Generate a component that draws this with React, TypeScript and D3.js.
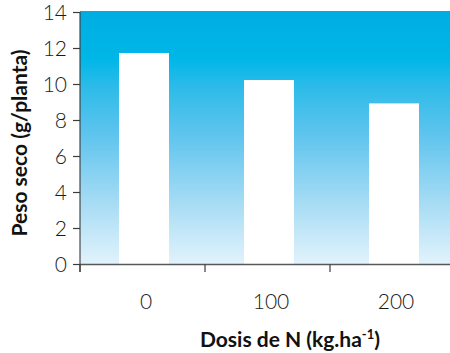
import React from "react";
import * as d3 from "d3";

// Nitrogen dose categories and dry weight per plant
const doses = ["0", "100", "200"];
const pesoSeco = [11.75, 10.25, 8.95];
const yTicks = [0, 2, 4, 6, 8, 10, 12, 14];

const W = 450;
const H = 353;
const left = 80;
const bandW = 125;
const zeroY = 264.5;
const topY = 12.5;

export default function App() {
  const x = d3
    .scaleBand<string>()
    .domain(doses)
    .range([left + 1.5, left + 1.5 + bandW * doses.length])
    .paddingInner(0.6)
    .paddingOuter(0.3);
  const y = d3.scaleLinear().domain([0, 14]).range([zeroY, topY]);

  const tickFont = "Lato, 'DejaVu Sans', sans-serif";
  const titleFont = "Lato, 'DejaVu Sans', sans-serif";
  const axisColor = "#3c3c3c";

  // boundaries between categories carry the x-axis ticks
  const xBoundaries = d3.range(doses.length + 1).map((i) => left + i * bandW);

  return (
    <div style={{ position: "absolute", left: 0, top: 0 }}>
      <svg width={W} height={H} style={{ display: "block" }}>
        <defs>
          <linearGradient id="bg" x1="0" y1="0" x2="0" y2="1">
            <stop offset="0" stopColor="#00ade3" />
            <stop offset="0.19" stopColor="#00b7e7" />
            <stop offset="0.3" stopColor="#2dbbe9" />
            <stop offset="0.5" stopColor="#62c5ee" />
            <stop offset="0.75" stopColor="#a5dbf4" />
            <stop offset="1" stopColor="#e2f3fc" />
          </linearGradient>
        </defs>
        <rect
          x={left}
          y={y(14) - 1.5}
          width={W - left}
          height={zeroY - (y(14) - 1.5)}
          fill="url(#bg)"
        />
        {doses.map((d, i) => (
          <rect
            key={d}
            x={x(d)!}
            y={y(pesoSeco[i])}
            width={x.bandwidth()}
            height={zeroY - y(pesoSeco[i])}
            fill="#ffffff"
          />
        ))}
        {/* y axis */}
        <line
          x1={left}
          x2={left}
          y1={y(14) - 0.5}
          y2={zeroY + 7.5}
          stroke={axisColor}
          strokeOpacity={0.75}
          strokeWidth={1.5}
        />
        {yTicks.map((t) => (
          <g key={t}>
            <line
              x1={left - 7}
              x2={left}
              y1={y(t)}
              y2={y(t)}
              stroke={axisColor}
              strokeWidth={1.2}
            />
            <text
              x={67}
              y={y(t)}
              dy="0.36em"
              textAnchor="end"
              fontFamily={tickFont}
              fontWeight={300}
              fontSize={21}
              fill="#1a1a1a"
            >
              {t}
            </text>
          </g>
        ))}
        {/* x axis */}
        <line
          x1={left}
          x2={W}
          y1={zeroY}
          y2={zeroY}
          stroke={axisColor}
          strokeOpacity={0.85}
          strokeWidth={1.5}
        />
        {xBoundaries.map((bx, i) => (
          <line
            key={i}
            x1={bx}
            x2={bx}
            y1={zeroY}
            y2={zeroY + 7.5}
            stroke={axisColor}
            strokeWidth={1.2}
          />
        ))}
        {doses.map((d) => (
          <text
            key={d}
            x={x(d)! + x.bandwidth() / 2 + 2}
            y={309}
            textAnchor="middle"
            fontFamily={tickFont}
            fontWeight={300}
            fontSize={21}
            fill="#1a1a1a"
          >
            {d}
          </text>
        ))}
        <text
          x={290}
          y={347}
          textAnchor="middle"
          fontFamily={titleFont}
          fontWeight={700}
          fontSize={21}
          fill="#111"
        >
          Dosis de N (kg.ha
          <tspan fontSize={13} dy={-8}>
            -1
          </tspan>
          <tspan dy={8}>)</tspan>
        </text>
        <text
          transform={`translate(27,143) rotate(-90)`}
          textAnchor="middle"
          fontFamily={titleFont}
          fontWeight={700}
          fontSize={21}
          fill="#111"
        >
          Peso seco (g/planta)
        </text>
      </svg>
    </div>
  );
}
